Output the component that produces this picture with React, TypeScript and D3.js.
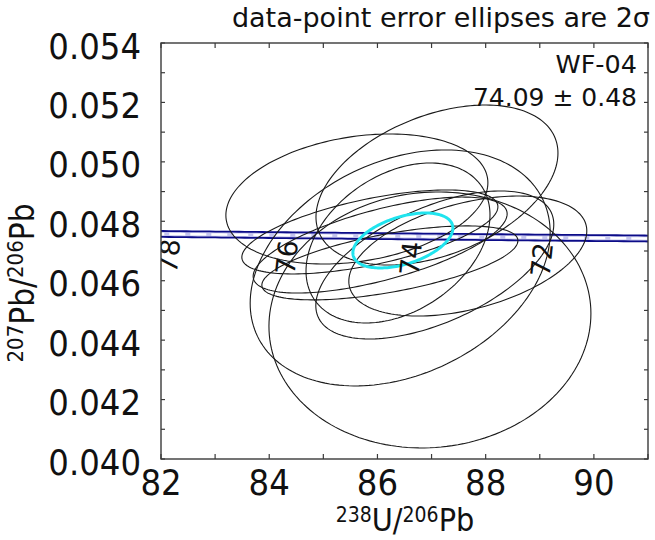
import React from "react";
import * as d3 from "d3";

// U-Pb spot analyses (238U/206Pb, 207Pb/206Pb), 2-sigma half-widths and error correlation
const spotX = [87.1, 85.62, 87.67, 86.97, 86.42, 87.06, 85.86, 86.05, 86.38, 86.23];
const spotX2s = [2.236, 2.421, 2.199, 2.975, 2.772, 2.199, 2.366, 2.347, 1.7, 2.366];
const spotY = [0.04922, 0.04875, 0.04683, 0.04468, 0.04643, 0.04653, 0.04764, 0.0472, 0.04727, 0.0466];
const spotY2s = [0.002692, 0.002188, 0.002019, 0.004308, 0.003971, 0.00249, 0.001413, 0.001615, 0.002692, 0.001245];
const spotRho = [0.4, 0.25, 0.42, 0.05, 0.3, 0.55, 0.6, 0.65, 0.35, 0.6];

// Concordia age ellipse
const meanX = [86.47];
const meanX2s = [0.924];
const meanY = [0.047354];
const meanY2s = [0.000925];
const meanRho = [0.45];

// Concordia age labels (Ma)
const concordiaAges = [72, 74, 76, 78];

const xTicks = [82, 84, 86, 88, 90];
const yTicks = [0.04, 0.042, 0.044, 0.046, 0.048, 0.05, 0.052, 0.054];

const sampleName = "WF-04";
const ageText = "74.09 \u00b1 0.48";
const noteText = "data-point error ellipses are 2\u03c3";

// decay constants (per year) and present-day 238U/235U
const L238 = 1.55125e-10;
const L235 = 9.8485e-10;
const U85 = 137.88;
const bandHalf = 0.0001;

const W = 655;
const H = 540;
const left = 161, right = 648, top = 43, bottom = 459;

const x = d3.scaleLinear().domain([82, 91]).range([left, right]);
const y = d3.scaleLinear().domain([0.04, 0.054]).range([bottom, top]);

function concordia(tMa: number): [number, number] {
  const t = tMa * 1e6;
  const e8 = Math.exp(L238 * t) - 1;
  const e5 = Math.exp(L235 * t) - 1;
  return [1 / e8, e5 / e8 / U85];
}

function ellipsePath(cx: number, sx: number, cy: number, sy: number, rho: number) {
  const pts: [number, number][] = [];
  const s = Math.sqrt(1 - rho * rho);
  for (let i = 0; i <= 180; i++) {
    const t = (i / 180) * Math.PI * 2;
    const u = Math.cos(t);
    const v = rho * Math.cos(t) + s * Math.sin(t);
    pts.push([x(cx + sx * u), y(cy + sy * v)]);
  }
  return d3.line().curve(d3.curveLinearClosed)(pts) || "";
}

export default function App() {
  const ages = d3.range(69, 80.01, 0.1);
  const conc = ages.map((a) => concordia(a));
  const line = d3.line<[number, number]>().x((d) => x(d[0])).y((d) => y(d[1]));
  const upper = conc.map((d) => [d[0], d[1] + bandHalf] as [number, number]);
  const lower = conc.map((d) => [d[0], d[1] - bandHalf] as [number, number]);
  const area = d3
    .area<[number, number]>()
    .x((d) => x(d[0]))
    .y0((d) => y(d[1] - bandHalf))
    .y1((d) => y(d[1] + bandHalf));

  const xMinor = d3.range(82, 91.01, 1);
  const yMinor = d3.range(0, 15).map((i) => 0.04 + i * 0.001);
  const font = "DejaVu Sans, Verdana, sans-serif";
  const condensed = "DejaVu Sans Condensed, DejaVu Sans, sans-serif";
  const axisColor = "#3a3a3a";

  return (
    <svg width={W} height={H} style={{ position: "absolute", left: 0, top: 0, background: "#fff" }} fontFamily={font}>
      <defs>
        <clipPath id="plotArea">
          <rect x={left} y={top} width={right - left} height={bottom - top} />
        </clipPath>
      </defs>
      <rect x={0} y={0} width={W} height={H} fill="#fff" />

      <g clipPath="url(#plotArea)">
        {/* concordia uncertainty band */}
        <path d={area(conc) || ""} fill="#c4c4ee" />
        <path d={line(conc) || ""} fill="none" stroke="#fff" strokeWidth={2.4} strokeDasharray="16 5" />
        <path d={line(upper) || ""} fill="none" stroke="#0c0c88" strokeWidth={1.8} />
        <path d={line(lower) || ""} fill="none" stroke="#0c0c88" strokeWidth={1.8} />

        {/* data-point error ellipses */}
        {spotX.map((cx, i) => (
          <path
            key={i}
            d={ellipsePath(cx, spotX2s[i], spotY[i], spotY2s[i], spotRho[i])}
            fill="none"
            stroke="#1a1a1a"
            strokeWidth={1.1}
          />
        ))}

        {/* concordia age ellipse */}
        {meanX.map((cx, i) => (
          <path
            key={"m" + i}
            d={ellipsePath(cx, meanX2s[i], meanY[i], meanY2s[i], meanRho[i])}
            fill="none"
            stroke="#20e4ee"
            strokeWidth={3}
          />
        ))}

        {/* concordia age labels */}
        {concordiaAges.map((a) => {
          const [cx, cy] = concordia(a);
          const px = x(cx) + 2;
          const py = y(cy) + 5;
          return (
            <text
              key={a}
              x={px}
              y={py}
              transform={`rotate(-84 ${px} ${py})`}
              textAnchor="end"
              dominantBaseline="central"
              fontSize={27}
              fill="#111"
            >
              {a}
            </text>
          );
        })}
      </g>

      {/* frame */}
      <rect x={left} y={top} width={right - left} height={bottom - top} fill="none" stroke={axisColor} strokeWidth={1.4} />

      {/* ticks */}
      {xMinor.map((v) => (
        <g key={"xt" + v} stroke={axisColor} strokeWidth={1.2}>
          <line x1={x(v)} x2={x(v)} y1={bottom} y2={bottom - 5} />
          <line x1={x(v)} x2={x(v)} y1={top} y2={top + 5} />
        </g>
      ))}
      {yMinor.map((v, i) => (
        <g key={"yt" + i} stroke={axisColor} strokeWidth={1.2}>
          <line x1={left} x2={left + 4} y1={y(v)} y2={y(v)} />
          <line x1={right} x2={right - 4} y1={y(v)} y2={y(v)} />
        </g>
      ))}

      {/* tick labels */}
      {xTicks.map((v) => (
        <text key={"xl" + v} x={x(v)} y={495} textAnchor="middle" fontSize={36} fontFamily={condensed} fill="#111">
          {v}
        </text>
      ))}
      {yTicks.map((v) => (
        <text key={"yl" + v} x={141} y={y(v) + 3} textAnchor="end" dominantBaseline="central" fontSize={36} fontFamily={condensed} fill="#111">
          {d3.format(".3f")(v)}
        </text>
      ))}

      {/* axis titles */}
      <text x={405} y={531} textAnchor="middle" fontSize={32} fontFamily={condensed} fill="#111">
        <tspan fontSize={21} dy={-9}>238</tspan>
        <tspan dy={9}>U/</tspan>
        <tspan fontSize={21} dy={-9}>206</tspan>
        <tspan dy={9}>Pb</tspan>
      </text>
      <text x={34} y={283} transform="rotate(-90 34 283)" textAnchor="middle" fontSize={33} fontFamily={condensed} fill="#111">
        <tspan fontSize={22} dy={-11}>207</tspan>
        <tspan dy={11}>Pb/</tspan>
        <tspan fontSize={22} dy={-11}>206</tspan>
        <tspan dy={11}>Pb</tspan>
      </text>

      {/* annotations */}
      <text x={650} y={27} textAnchor="end" fontSize={27} fill="#111">
        {noteText}
      </text>
      <text x={637} y={73} textAnchor="end" fontSize={25.5} fill="#111">
        {sampleName}
      </text>
      <text x={637} y={106} textAnchor="end" fontSize={25} fill="#111">
        {ageText}
      </text>
    </svg>
  );
}
